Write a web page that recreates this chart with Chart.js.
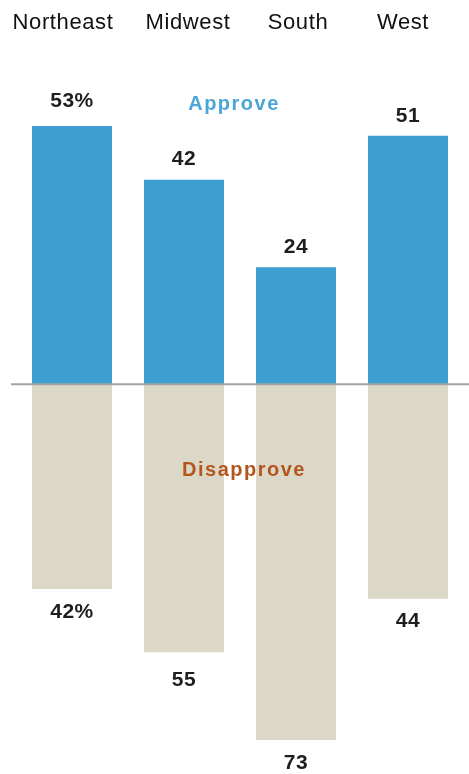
<!DOCTYPE html>
<html lang="en">
<head>
  <meta charset="UTF-8">
  <title>Approve / Disapprove by region</title>
  <script src="https://cdn.jsdelivr.net/npm/chart.js"></script>
  <style>
    * { margin: 0; padding: 0; box-sizing: border-box; }
    body { background: #fff; width: 469px; height: 774px; overflow: hidden; }
    #wrap { position: relative; width: 469px; height: 774px; }
  </style>
</head>
<body>
  <div id="wrap"><canvas id="chart"></canvas></div>
  <script>
    // --- Data ---
    const regions = ['Northeast', 'Midwest', 'South', 'West'];
    const approve = [53, 42, 24, 51];
    const disapprove = [42, 55, 73, 44];
    const approveLabels = ['53%', '42', '24', '51'];
    const disapproveLabels = ['42%', '55', '73', '44'];

    const BLUE = '#3d9fd1';
    const BEIGE = '#dcd8c8';
    const FONT = '"Liberation Sans", Arial, sans-serif';

    // Draws category names, zero line, value labels and the two series names
    const extras = {
      id: 'extras',
      afterDatasetsDraw(chart) {
        const { ctx, scales: { x, y } } = chart;
        const zero = y.getPixelForValue(0);
        ctx.save();
        // zero line
        ctx.strokeStyle = '#a3a3a3';
        ctx.lineWidth = 2;
        ctx.beginPath();
        ctx.moveTo(11, zero);
        ctx.lineTo(chart.width, zero);
        ctx.stroke();

        ctx.textAlign = 'center';
        ctx.textBaseline = 'middle';

        // category names along the top
        ctx.font = '22px ' + FONT;
        ctx.letterSpacing = '0.6px';
        ctx.fillStyle = '#111';
        const nameShift = [-9, 4, 2, -5];
        regions.forEach((r, i) => {
          ctx.fillText(r, x.getPixelForValue(i) + nameShift[i], 23);
        });

        // value labels
        ctx.font = 'bold 21px ' + FONT;
        ctx.letterSpacing = '0.5px';
        ctx.fillStyle = '#1e1e1e';
        regions.forEach((r, i) => {
          const cx = x.getPixelForValue(i);
          const top = y.getPixelForValue(approve[i]);
          const bot = y.getPixelForValue(-disapprove[i]);
          ctx.fillText(approveLabels[i], cx, top - (i === 0 ? 25 : 20));
          ctx.fillText(disapproveLabels[i], cx, bot + (i === 1 ? 28 : 23));
        });

        // series names
        const mid = (x.getPixelForValue(1) + x.getPixelForValue(2)) / 2;
        ctx.font = 'bold 20px ' + FONT;
        ctx.letterSpacing = '1.5px';
        ctx.fillStyle = '#4aa6d6';
        ctx.fillText('Approve', mid - 6, y.getPixelForValue(57.5));
        ctx.fillStyle = '#b3561e';
        ctx.fillText('Disapprove', mid + 4, y.getPixelForValue(-17.6));
        ctx.restore();
      }
    };

    new Chart(document.getElementById('chart'), {
      type: 'bar',
      data: {
        labels: regions,
        datasets: [
          { label: 'Approve', data: approve, backgroundColor: BLUE },
          { label: 'Disapprove', data: disapprove.map(v => -v), backgroundColor: BEIGE }
        ]
      },
      options: {
        responsive: true,
        maintainAspectRatio: false,
        animation: false,
        layout: { padding: { left: 16, right: 5, top: 92, bottom: 0 } },
        datasets: { bar: { barPercentage: 0.714, categoryPercentage: 1 } },
        plugins: { legend: { display: false }, tooltip: { enabled: false } },
        scales: {
          x: { display: false, stacked: true },
          y: { display: false, stacked: true, min: -80, max: 60 }
        }
      },
      plugins: [extras]
    });
  </script>
</body>
</html>
